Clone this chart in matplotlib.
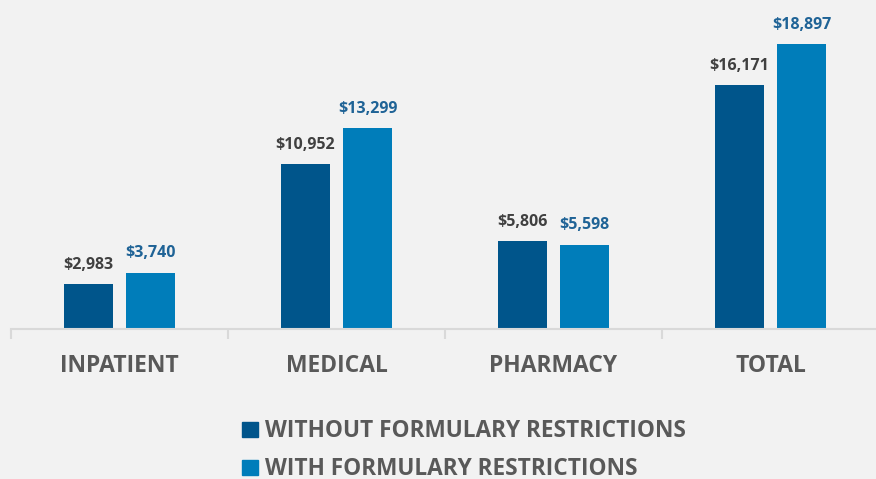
import numpy as np
import matplotlib.pyplot as plt
from matplotlib.patches import Patch

plt.rcParams['font.family'] = ['Open Sans', 'DejaVu Sans']

categories = ['INPATIENT', 'MEDICAL', 'PHARMACY', 'TOTAL']
without_restr = [2983, 10952, 5806, 16171]
with_restr = [3740, 13299, 5598, 18897]
series_names = ['WITHOUT FORMULARY RESTRICTIONS', 'WITH FORMULARY RESTRICTIONS']

bg = '#F2F2F2'
dark = '#00558B'
light = '#007DBA'
label_gray = '#404040'
label_blue = '#1F6396'
text_gray = '#595959'

fig = plt.figure(figsize=(8.76, 4.79), dpi=100, facecolor=bg)
ax = fig.add_axes([11 / 876, 150 / 479, 868 / 876, 329 / 479])
ax.set_facecolor(bg)

x = np.arange(len(categories))
w = 0.226
off = 0.143
b1 = ax.bar(x - off, without_restr, w, color=dark)
b2 = ax.bar(x + off, with_restr, w, color=light)

# value labels above bars
for rect, v in zip(b1, without_restr):
    ax.annotate(f'${v:,}', (rect.get_x() + rect.get_width() / 2, v),
                xytext=(0, 8), textcoords='offset points', ha='center', va='bottom',
                fontsize=11.5, fontweight='bold', color=label_gray)
for rect, v in zip(b2, with_restr):
    ax.annotate(f'${v:,}', (rect.get_x() + rect.get_width() / 2, v),
                xytext=(0, 8), textcoords='offset points', ha='center', va='bottom',
                fontsize=11.5, fontweight='bold', color=label_blue)

ax.set_xlim(-0.5, 3.5)
ax.set_ylim(0, 21816)
for s in ['top', 'right', 'left']:
    ax.spines[s].set_visible(False)
ax.spines['bottom'].set_color('#D9D9D9')
ax.spines['bottom'].set_linewidth(1.5)
ax.set_yticks([])
ax.set_xticks(np.arange(-0.5, 4, 1))
ax.set_xticklabels([])
ax.set_xticks(x, minor=True)
ax.set_xticklabels(categories, minor=True, fontsize=16.5, fontweight='bold', color=text_gray)
ax.tick_params(axis='x', which='major', length=7, width=1.5, color='#D9D9D9')
ax.tick_params(axis='x', which='minor', length=0, pad=18)

handles = [Patch(color=dark), Patch(color=light)]
fig.legend(handles, series_names, loc='upper left', bbox_to_anchor=(222 / 876, 1 - 399 / 479),
           frameon=False, handlelength=0.7, handleheight=0.7,
           handletextpad=0.3, labelspacing=0.62,
           prop={'weight': 'bold', 'size': 16.3})
for t in fig.legends[0].get_texts():
    t.set_color(text_gray)

fig.savefig('out.png', dpi=100, facecolor=bg)
